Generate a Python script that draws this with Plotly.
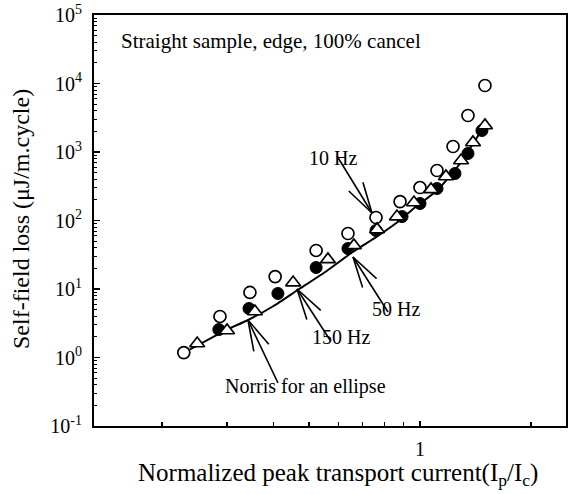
import numpy as np
import plotly.graph_objects as go

# ---- data ----
x_10hz = [0.229, 0.287, 0.346, 0.405, 0.523, 0.638, 0.760, 0.883, 1.00, 1.112, 1.229, 1.349, 1.50]
y_10hz = [1.18, 3.97, 8.9, 15.2, 36.5, 64.6, 110.6, 189, 303, 537, 1203, 3411, 9350]

x_50hz = [0.285, 0.344, 0.412, 0.523, 0.638, 0.760, 0.894, 1.00, 1.112, 1.244, 1.349, 1.472]
y_50hz = [2.56, 5.19, 8.6, 20.6, 39.0, 71.4, 114, 177, 293, 485, 951, 2060]

x_150hz = [0.249, 0.300, 0.357, 0.453, 0.563, 0.662, 0.765, 0.866, 0.963, 1.071, 1.176, 1.292, 1.392, 1.50]
y_150hz = [1.60, 2.48, 4.69, 12.4, 27.0, 43.2, 73.9, 114, 183, 284, 439, 751, 1376, 2438]

x_norris = [0.238, 0.300, 0.340, 0.400, 0.464, 0.560, 0.654, 0.765, 0.866, 0.969, 1.112, 1.284, 1.427, 1.47]
y_norris = [1.31, 2.56, 3.47, 5.6, 9.5, 18.5, 34.1, 58.4, 93.5, 155, 274, 679, 1629, 2100]

y_tickvals = [0.1, 1, 10, 100, 1000, 10000, 100000]
y_ticktext = ["10<sup>-1</sup>", "10<sup>0</sup>", "10<sup>1</sup>", "10<sup>2</sup>",
              "10<sup>3</sup>", "10<sup>4</sup>", "10<sup>5</sup>"]
x_tickvals = [1]
x_ticktext = ["1"]
x_minor = [0.2, 0.3, 0.4, 0.5, 0.6, 0.7, 0.8, 0.9, 2]
y_minor = [m * 10.0 ** e for e in range(-1, 5) for m in range(2, 10)]

FONT = "Liberation Serif"
W, H = 568, 494
ML, MR, MT, MB = 94, 2, 15, 68
PW, PH = W - ML - MR, H - MT - MB


def px(x, y):
    """pixel position in the picture -> paper coordinates"""
    return (x - ML) / PW, (H - MB - y) / PH


fig = go.Figure()
fig.add_trace(go.Scatter(x=x_norris, y=y_norris, mode="lines",
                         line=dict(color="black", width=2, shape="spline", smoothing=0.5),
                         name="Norris for an ellipse"))
fig.add_trace(go.Scatter(x=x_10hz, y=y_10hz, mode="markers", name="10 Hz",
                         marker=dict(symbol="circle", size=12, color="white",
                                     line=dict(color="black", width=1.7))))
fig.add_trace(go.Scatter(x=x_50hz, y=y_50hz, mode="markers", name="50 Hz",
                         marker=dict(symbol="circle", size=12, color="black",
                                     line=dict(color="black", width=1))))
fig.add_trace(go.Scatter(x=x_150hz, y=y_150hz, mode="markers", name="150 Hz",
                         marker=dict(symbol="triangle-up", size=13, color="white",
                                     line=dict(color="black", width=1.7))))

shapes = []


def add_arrow(tip, tail, barb_len=32, barb_deg=15):
    tx, ty = tip
    sx, sy = tail
    lines = [(sx, sy)]
    vx, vy = sx - tx, sy - ty
    n = np.hypot(vx, vy)
    ux, uy = vx / n, vy / n
    for s in (1, -1):
        a = np.deg2rad(barb_deg) * s
        bx = ux * np.cos(a) - uy * np.sin(a)
        by = ux * np.sin(a) + uy * np.cos(a)
        lines.append((tx + bx * barb_len, ty + by * barb_len))
    p0 = px(tx, ty)
    for (ex, ey) in lines:
        p1 = px(ex, ey)
        shapes.append(dict(type="line", xref="paper", yref="paper",
                           x0=p0[0], y0=p0[1], x1=p1[0], y1=p1[1],
                           line=dict(color="black", width=1.6)))


add_arrow((372, 213), (337, 156))   # 10 Hz
add_arrow((353, 257), (388, 312))   # 50 Hz
add_arrow((297, 289), (330, 340))   # 150 Hz
add_arrow((248, 320), (278, 383))   # Norris

annotations = []
label_pos = [("10 Hz", 333, 145), ("50 Hz", 396, 322), ("150 Hz", 341, 350),
             ("Norris for an ellipse", 305, 400)]
for t, lx, ly in label_pos:
    x, y = px(lx, ly)
    annotations.append(dict(x=x, y=y, xref="paper", yref="paper", text=t,
                            showarrow=False, font=dict(family=FONT, size=20, color="black")))

x, y = px(119, 41)
annotations.append(dict(x=x, y=y, xref="paper", yref="paper", xanchor="left",
                        yanchor="middle", text="Straight sample, edge, 100% cancel",
                        showarrow=False, font=dict(family=FONT, size=21, color="black")))

x, y = px(338, 474)
annotations.append(dict(x=x, y=y, xref="paper", yref="paper", xanchor="center", yanchor="middle",
                        text="Normalized peak transport current(I<sub>p</sub>/I<sub>c</sub>)",
                        showarrow=False, font=dict(family=FONT, size=25, color="black")))
x, y = px(21, 219)
annotations.append(dict(x=x, y=y, xref="paper", yref="paper", xanchor="center", yanchor="middle",
                        text="Self-field loss (\u03bcJ/m.cycle)", textangle=-90,
                        showarrow=False, font=dict(family=FONT, size=24, color="black")))

fig.update_layout(
    width=W, height=H,
    margin=dict(l=ML, r=MR, t=MT, b=MB, autoexpand=False),
    paper_bgcolor="white", plot_bgcolor="white",
    showlegend=False,
    hovermode=False,
    font=dict(family=FONT, color="black"),
    annotations=annotations,
    shapes=shapes,
)
fig.update_xaxes(type="log", range=[-0.8835, 0.3957], automargin=False,
                 tickmode="array", tickvals=x_tickvals, ticktext=x_ticktext,
                 ticks="inside", ticklen=5, tickwidth=1.5, tickcolor="black",
                 minor=dict(tickmode="array", tickvals=x_minor, ticks="inside",
                            ticklen=4, tickwidth=1.2, tickcolor="black", showgrid=False),
                 showline=True, linewidth=2, linecolor="black", mirror=True,
                 showgrid=False, zeroline=False,
                 tickfont=dict(family=FONT, size=20, color="black"), ticklabelstandoff=4)
fig.update_yaxes(type="log", range=[-1, 5], automargin=False,
                 tickmode="array", tickvals=y_tickvals, ticktext=y_ticktext,
                 ticks="inside", ticklen=6, tickwidth=1.5, tickcolor="black",
                 minor=dict(tickmode="array", tickvals=y_minor, ticks="inside",
                            ticklen=3, tickwidth=1, tickcolor="black", showgrid=False),
                 showline=True, linewidth=2, linecolor="black", mirror=True,
                 showgrid=False, zeroline=False,
                 tickfont=dict(family=FONT, size=20, color="black"), ticklabelstandoff=6)

fig.write_html("out.html", config={"displayModeBar": False, "staticPlot": True},
               post_script="document.body.style.margin='0';document.body.style.padding='0';")
